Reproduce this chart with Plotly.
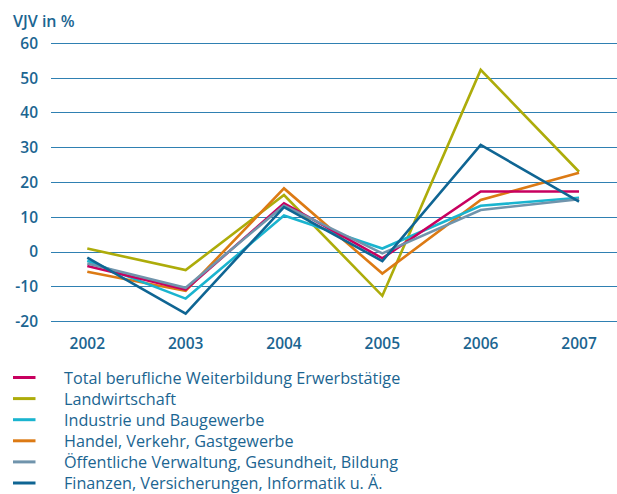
import plotly.graph_objects as go

years = ["2002", "2003", "2004", "2005", "2006", "2007"]
series_names = [
    "Total berufliche Weiterbildung Erwerbstätige",
    "Landwirtschaft",
    "Industrie und Baugewerbe",
    "Handel, Verkehr, Gastgewerbe",
    "Öffentliche Verwaltung, Gesundheit, Bildung",
    "Finanzen, Versicherungen, Informatik u. Ä.",
]
total = [-4.0, -10.8, 14.0, -1.8, 17.4, 17.4]
landwirtschaft = [1.0, -5.2, 16.4, -12.6, 52.4, 23.1]
industrie = [-2.5, -13.4, 10.5, 1.0, 13.3, 15.6]
handel = [-5.7, -11.2, 18.3, -6.2, 15.0, 22.8]
oeffentlich = [-3.3, -10.3, 13.4, -0.4, 12.1, 15.2]
finanzen = [-1.6, -17.7, 12.9, -2.6, 30.8, 14.5]
y_ticks = [-20, -10, 0, 10, 20, 30, 40, 50, 60]

colors = ["#c8005f", "#adac0a", "#1ab4cf", "#dc7a14", "#7094ac", "#0f6593"]
text_color = "#1b6591"
grid_color = "#2f80b2"

all_series = [total, landwirtschaft, industrie, handel, oeffentlich, finanzen]
draw_order = [1, 3, 2, 0, 4, 5]

W, H = 617, 494
ml, mr, mt, mb = 51, 0, 40, 169

fig = go.Figure()
for i in draw_order:
    fig.add_trace(go.Scatter(
        x=list(range(len(years))), y=all_series[i], mode="lines",
        name=series_names[i], line=dict(color=colors[i], width=2.6),
        showlegend=False, cliponaxis=False, hoverinfo="skip",
    ))

plot_w = W - ml - mr
plot_h = H - mt - mb
def px_x(p):
    return (p - ml) / plot_w
def px_y(p):
    return 1 - (p - mt) / plot_h

legend_y = [377.5, 398.6, 419.7, 440.8, 461.9, 483]
shapes = []
annotations = []
for i, name in enumerate(series_names):
    yy = px_y(legend_y[i])
    shapes.append(dict(type="line", xref="paper", yref="paper",
                       x0=px_x(13), x1=px_x(35.5), y0=yy, y1=yy,
                       line=dict(color=colors[i], width=3)))
    annotations.append(dict(xref="paper", yref="paper", x=px_x(63), y=yy,
                            text=name, showarrow=False, xanchor="left",
                            yanchor="middle", borderpad=0,
                            font=dict(family="Open Sans", size=16.2,
                                      color=text_color, weight=500)))

annotations.append(dict(xref="paper", yref="paper", x=px_x(11), y=px_y(20.5),
                        text="VJV in %", showarrow=False, xanchor="left",
                        yanchor="middle",
                        font=dict(family="Open Sans", size=16,
                                  color=text_color, weight=600)))

fig.update_layout(
    width=W, height=H,
    margin=dict(l=ml, r=mr, t=mt, b=mb, pad=0),
    paper_bgcolor="white", plot_bgcolor="white",
    shapes=shapes, annotations=annotations,
    showlegend=False, hovermode=False,
)
fig.update_xaxes(
    tickmode="array", tickvals=list(range(len(years))), ticktext=years,
    range=[-0.369, 5.386], showgrid=False, zeroline=False, showline=False,
    ticks="", ticklabelstandoff=7,
    tickfont=dict(family="Open Sans", size=15.5, color=text_color, weight=600),
)
fig.update_yaxes(
    tickmode="array", tickvals=y_ticks, ticktext=[str(v) for v in y_ticks],
    range=[-21, 61], showgrid=True, gridcolor=grid_color, gridwidth=1.2,
    zeroline=True, zerolinecolor=grid_color, zerolinewidth=1.2,
    showline=False, ticks="", ticklabelstandoff=12,
    tickfont=dict(family="Open Sans", size=15.5, color=text_color, weight=600),
)

fig.write_html("out.html", config={"displayModeBar": False},
               post_script="document.body.style.margin='0';document.body.style.overflow='hidden';")
